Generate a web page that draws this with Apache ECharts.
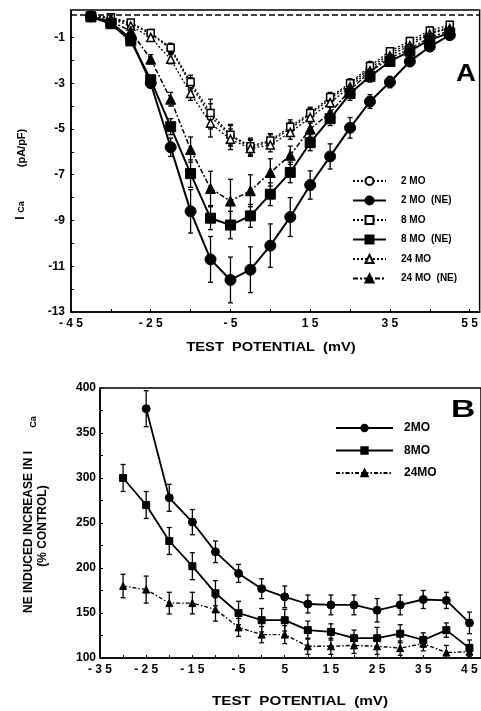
<!DOCTYPE html>
<html>
<head>
<meta charset="utf-8">
<script src="https://cdn.jsdelivr.net/npm/echarts@6/dist/echarts.min.js"></script>
<style>html,body{margin:0;padding:0;background:#fff;}#c{width:481px;height:711px;}</style>
</head>
<body>
<div id="c"></div>
<script>
// ---------- Panel A data ----------
const xA = [-40,-35,-30,-25,-20,-15,-10,-5,0,5,10,15,20,25,30,35,40,45,50];
const a2MO    = [-0.05,-0.15,-0.4,-0.85,-1.5,-3.05,-4.45,-5.3,-5.8,-5.55,-5.0,-4.35,-3.7,-3.05,-2.35,-1.7,-1.25,-0.8,-0.55];
const a2MOerr = [0.05,0.1,0.1,0.15,0.2,0.3,0.55,0.45,0.35,0.3,0.3,0.25,0.2,0.2,0.2,0.15,0.15,0.15,0.15];
const a2MONE    = [-0.08,-0.35,-1.05,-3.0,-5.8,-8.6,-10.7,-11.6,-11.15,-10.1,-8.85,-7.45,-6.2,-4.95,-3.8,-2.95,-2.05,-1.4,-0.9];
const a2MONEerr = [0.05,0.1,0.15,0.2,0.4,0.95,1.0,1.0,1.0,0.95,0.85,0.62,0.55,0.45,0.3,0.25,0.2,0.15,0.15];
const a8MO    = [-0.05,-0.12,-0.35,-0.8,-1.45,-2.95,-4.3,-5.25,-5.75,-5.5,-4.9,-4.3,-3.6,-3.0,-2.25,-1.6,-1.15,-0.7,-0.45];
const a8MOerr = [0.05,0.1,0.1,0.15,0.2,0.3,0.6,0.45,0.35,0.3,0.3,0.25,0.2,0.2,0.2,0.15,0.15,0.15,0.15];
const a8MONE    = [-0.1,-0.4,-1.15,-2.85,-4.9,-6.95,-8.9,-9.2,-8.8,-7.85,-6.9,-5.6,-4.55,-3.45,-2.7,-2.05,-1.6,-1.1,-0.8];
const a8MONEerr = [0.05,0.1,0.15,0.2,0.35,0.6,0.5,0.6,0.5,0.5,0.45,0.35,0.3,0.3,0.25,0.2,0.15,0.15,0.15];
const a24MO    = [-0.05,-0.18,-0.5,-1.0,-1.95,-3.45,-4.75,-5.45,-5.85,-5.7,-5.15,-4.5,-3.85,-3.15,-2.45,-1.8,-1.35,-0.85,-0.6];
const a24MOerr = [0.05,0.1,0.1,0.15,0.2,0.3,0.6,0.45,0.35,0.3,0.3,0.25,0.2,0.2,0.2,0.15,0.15,0.15,0.15];
const a24MONE    = [-0.05,-0.3,-0.72,-1.95,-3.7,-5.9,-7.6,-8.15,-7.7,-6.9,-6.15,-5.0,-4.3,-3.3,-2.5,-1.9,-1.5,-1.0,-0.7];
const a24MONEerr = [0.05,0.1,0.15,0.2,0.3,0.55,0.75,0.95,0.7,0.6,0.4,0.35,0.3,0.25,0.2,0.2,0.15,0.15,0.15];
const xAticks  = [-45,-35,-25,-15,-5,5,15,25,35,45,55];
const xAlabels = [-45,-25,-5,15,35,55];
const yAticks  = [-13,-12,-11,-10,-9,-8,-7,-6,-5,-4,-3,-2,-1];
const yAlabels = [-13,-11,-9,-7,-5,-3,-1];

// ---------- Panel B data ----------
const xB = [-30,-25,-20,-15,-10,-5,0,5,10,15,20,25,30,35,40,45];
const b2MO    = [null,377,278,251,218,194,177,168,160,159,159,153,159,165,164,139];
const b2MOerr = [null,20,15,14,12,10,11,12,10,11,11,13,11,10,9,12];
const b8MO    = [300,270,230,202,172,150,142,142,131,129,122,122,127,120,131,111];
const b8MOerr = [15,15,15,15,14,13,13,12,10,9,9,12,10,8,8,9];
const b24MO    = [180,176,161,161,154,134,126,126,113,113,114,113,111,116,106,107];
const b24MOerr = [13,15,12,12,13,10,9,10,9,9,9,9,8,8,8,8];
const xBticks  = [-35,-30,-25,-20,-15,-10,-5,0,5,10,15,20,25,30,35,40,45];
const xBlabels = [-35,-25,-15,-5,5,15,25,35,45];
const yBticks  = [100,125,150,175,200,225,250,275,300,325,350,375,400];
const yBlabels = [100,150,200,250,300,350,400];

const FONT = "'Liberation Sans', Arial, Helvetica, sans-serif";
const pts = (xs, ys) => xs.map((x,i)=>[x, ys[i]]).filter(p=>p[1]!=null);
const errPts = (xs, ys, es) => xs.map((x,i)=>[x, ys[i], es[i]]).filter(p=>p[1]!=null);
const spaced = v => String(v).split('').join(' ');

function errRender(params, api) {
  const x = api.value(0), y = api.value(1), e = api.value(2);
  const t = api.coord([x, y + e]), b = api.coord([x, y - e]);
  const c = 2.5, st = {stroke:'#000', lineWidth:1.3};
  return {type:'group', children:[
    {type:'line', shape:{x1:t[0], y1:t[1], x2:b[0], y2:b[1]}, style:st},
    {type:'line', shape:{x1:t[0]-c, y1:t[1], x2:t[0]+c, y2:t[1]}, style:st},
    {type:'line', shape:{x1:b[0]-c, y1:b[1], x2:b[0]+c, y2:b[1]}, style:st}
  ]};
}
function errSeries(idx, xs, ys, es) {
  return {type:'custom', xAxisIndex:idx, yAxisIndex:idx, renderItem:errRender, clip:true,
    data: errPts(xs, ys, es), encode:{x:0, y:1}, silent:true, z:1};
}
const filled = {color:'#000', borderColor:'#000', borderWidth:1};
const open = {color:'#fff', borderColor:'#000', borderWidth:1.5};
function lineSeries(idx, name, xs, ys, symbol, size, item, ltype, lw) {
  return {type:'line', name, xAxisIndex:idx, yAxisIndex:idx, data:pts(xs, ys),
    symbol, symbolSize:size, itemStyle:item, showAllSymbol:true,
    lineStyle:{color:'#000', width:lw, type:ltype}, z:3, animation:false};
}

const axisFont = {color:'#000', fontWeight:'bold', fontFamily:FONT, fontSize:12};
const axLine = {onZero:false, lineStyle:{color:'#000', width:1.5}};

const option = {
  animation:false,
  backgroundColor:'#fff',
  grid:[
    {left:71, top:10, width:412, height:302, show:true, borderColor:'#000', borderWidth:1.5},
    {left:100, top:388, width:383, height:270, show:true, borderColor:'#000', borderWidth:1.5}
  ],
  xAxis:[
    {type:'value', gridIndex:0, min:-45, max:57.5, splitLine:{show:false}, axisLine:axLine,
     axisTick:{inside:true, length:3, customValues:xAticks, lineStyle:{color:'#000'}},
     axisLabel:Object.assign({customValues:xAlabels, formatter:spaced, margin:6}, axisFont)},
    {type:'value', gridIndex:1, min:-35, max:47.5, splitLine:{show:false}, axisLine:axLine,
     axisTick:{inside:true, length:3, customValues:xBticks, lineStyle:{color:'#000'}},
     axisLabel:Object.assign({customValues:xBlabels, formatter:spaced, margin:6}, axisFont)}
  ],
  yAxis:[
    {type:'value', gridIndex:0, min:-13, max:0.2, splitLine:{show:false}, axisLine:axLine,
     axisTick:{inside:true, length:3, customValues:yAticks, lineStyle:{color:'#000'}},
     axisLabel:Object.assign({customValues:yAlabels, margin:6}, axisFont)},
    {type:'value', gridIndex:1, min:100, max:400, splitLine:{show:false}, axisLine:axLine,
     axisTick:{inside:true, length:3, customValues:yBticks, lineStyle:{color:'#000'}},
     axisLabel:Object.assign({customValues:yBlabels, margin:4}, axisFont)}
  ],
  legend:[
    {orient:'vertical', left:347, top:171, itemWidth:33, itemHeight:10, itemGap:9.5,
     data:['2 MO','2 MO  (NE)','8 MO','8 MO  (NE)','24 MO','24 MO  (NE)'],
     textStyle:{color:'#000', fontWeight:'bold', fontFamily:FONT, fontSize:10, padding:[0,0,0,10]}},
    {orient:'vertical', left:330, top:417, itemWidth:57, itemHeight:8, itemGap:10.5,
     data:['2MO','8MO','24MO'],
     textStyle:{color:'#000', fontWeight:'bold', fontFamily:FONT, fontSize:12, padding:[0,0,0,6]}}
  ],
  graphic:[
    {type:'text', left:456, top:62, style:{text:'A', font:'bold 24px '+FONT, fill:'#000'}, scaleX:1.15},
    {type:'text', left:451, top:398, style:{text:'B', font:'bold 24px '+FONT, fill:'#000'}, scaleX:1.4},
    {type:'text', x:271, y:348, scaleX:1.22, style:{text:'TEST  POTENTIAL  (mV)', font:'bold 12px '+FONT, fill:'#000', align:'center', verticalAlign:'middle'}},
    {type:'text', x:300, y:702, scaleX:1.27, style:{text:'TEST  POTENTIAL  (mV)', font:'bold 12px '+FONT, fill:'#000', align:'center', verticalAlign:'middle'}},
    {type:'text', x:22, y:148, rotation:Math.PI/2, style:{text:'(pA/pF)', font:'bold 11px '+FONT, fill:'#000', align:'center', verticalAlign:'middle'}},
    {type:'text', x:21, y:218, rotation:Math.PI/2, style:{text:'I', font:'bold 12px '+FONT, fill:'#000', align:'center', verticalAlign:'middle'}},
    {type:'text', x:22, y:207, rotation:Math.PI/2, style:{text:'Ca', font:'bold 9px '+FONT, fill:'#000', align:'center', verticalAlign:'middle'}},
    {type:'text', x:29, y:532, rotation:Math.PI/2, style:{text:'NE INDUCED INCREASE IN I', font:'bold 12px '+FONT, fill:'#000', align:'center', verticalAlign:'middle'}},
    {type:'text', x:34, y:422, rotation:Math.PI/2, style:{text:'Ca', font:'bold 9px '+FONT, fill:'#000', align:'center', verticalAlign:'middle'}},
    {type:'text', x:43, y:526, rotation:Math.PI/2, style:{text:'(% CONTROL)', font:'bold 12px '+FONT, fill:'#000', align:'center', verticalAlign:'middle'}}
  ],
  series:[
    errSeries(0, xA, a2MO, a2MOerr),
    errSeries(0, xA, a8MO, a8MOerr),
    errSeries(0, xA, a24MO, a24MOerr),
    errSeries(0, xA, a2MONE, a2MONEerr),
    errSeries(0, xA, a8MONE, a8MONEerr),
    errSeries(0, xA, a24MONE, a24MONEerr),
    Object.assign(lineSeries(0, '2 MO', xA, a2MO, 'circle', 7, open, [2,2], 1.3), {
      markLine:{silent:true, symbol:'none', label:{show:false}, animation:false,
        lineStyle:{color:'#000', type:[6,3], width:1.5}, data:[{yAxis:0}]}}),
    lineSeries(0, '2 MO  (NE)', xA, a2MONE, 'circle', 11, filled, 'solid', 2),
    lineSeries(0, '8 MO', xA, a8MO, 'rect', 7, open, [2,2], 1.3),
    lineSeries(0, '8 MO  (NE)', xA, a8MONE, 'rect', 10, filled, 'solid', 2),
    lineSeries(0, '24 MO', xA, a24MO, 'triangle', 8, open, [2,2], 1.3),
    lineSeries(0, '24 MO  (NE)', xA, a24MONE, 'triangle', 10, filled, [5,2,2,2], 1.5),
    errSeries(1, xB, b2MO, b2MOerr),
    errSeries(1, xB, b8MO, b8MOerr),
    errSeries(1, xB, b24MO, b24MOerr),
    lineSeries(1, '2MO', xB, b2MO, 'circle', 8, filled, 'solid', 1.8),
    lineSeries(1, '8MO', xB, b8MO, 'rect', 7, filled, 'solid', 1.8),
    lineSeries(1, '24MO', xB, b24MO, 'triangle', 7, filled, [4,2,1.5,2], 1.4)
  ]
};
const chart = echarts.init(document.getElementById('c'), null, {renderer:'canvas'});
chart.setOption(option);
</script>
</body>
</html>
